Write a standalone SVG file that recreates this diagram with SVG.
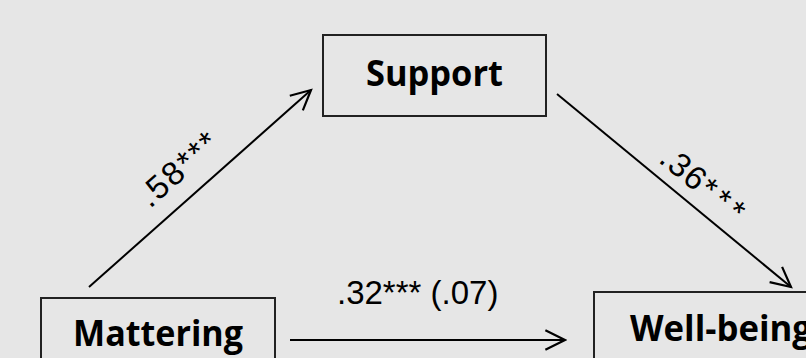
<svg xmlns="http://www.w3.org/2000/svg" width="806" height="358" viewBox="0 0 806 358">
  <defs>
    <style>
      .box { fill: none; stroke: #222; stroke-width: 2; }
      .node { font-family: "Open Sans", "Liberation Sans", sans-serif; font-weight: bold; font-size: 35px; fill: #000; }
      .lbl { font-family: "Liberation Sans", Arial, sans-serif; font-size: 33px; fill: #000; }
      .edge { stroke: #000; stroke-width: 2; fill: none; marker-end: url(#arr); }
    </style>
    <marker id="arr" markerUnits="userSpaceOnUse" markerWidth="24" markerHeight="24" viewBox="-20 -11 22 22" refX="0" refY="0" orient="auto">
      <path d="M-18,-9 L0,0 L-18,9" fill="none" stroke="#000" stroke-width="2"/>
    </marker>
  </defs>
  <rect x="0" y="0" width="806" height="358" fill="#e6e6e6"/>
  <g id="support">
    <rect class="box" x="323" y="35" width="223" height="81"/>
    <text class="node" x="366" y="86" textLength="137" lengthAdjust="spacingAndGlyphs">Support</text>
  </g>
  <g id="mattering">
    <rect class="box" x="41" y="298" width="234" height="80"/>
    <text class="node" x="73" y="346" textLength="170" lengthAdjust="spacingAndGlyphs">Mattering</text>
  </g>
  <g id="wellbeing">
    <rect class="box" x="594" y="292" width="240" height="90"/>
    <text class="node" x="630" y="341" textLength="182" lengthAdjust="spacingAndGlyphs">Well-being</text>
  </g>
  <g id="connectors">
    <line class="edge" x1="89" y1="287" x2="311" y2="90"/>
    <line class="edge" x1="557" y1="94" x2="791" y2="287"/>
    <line class="edge" x1="290" y1="340" x2="565" y2="340"/>
    <text class="lbl" x="150" y="209" font-size="34" transform="rotate(-41.6 150 209)" letter-spacing="2">.58***</text>
    <text class="lbl" x="657.4" y="161.2" font-size="34" transform="rotate(39.5 657.4 161.2)" letter-spacing="1.5">.36<tspan letter-spacing="5">***</tspan></text>
    <text class="lbl" x="337" y="304">.32*** (.07)</text>
  </g>
</svg>
